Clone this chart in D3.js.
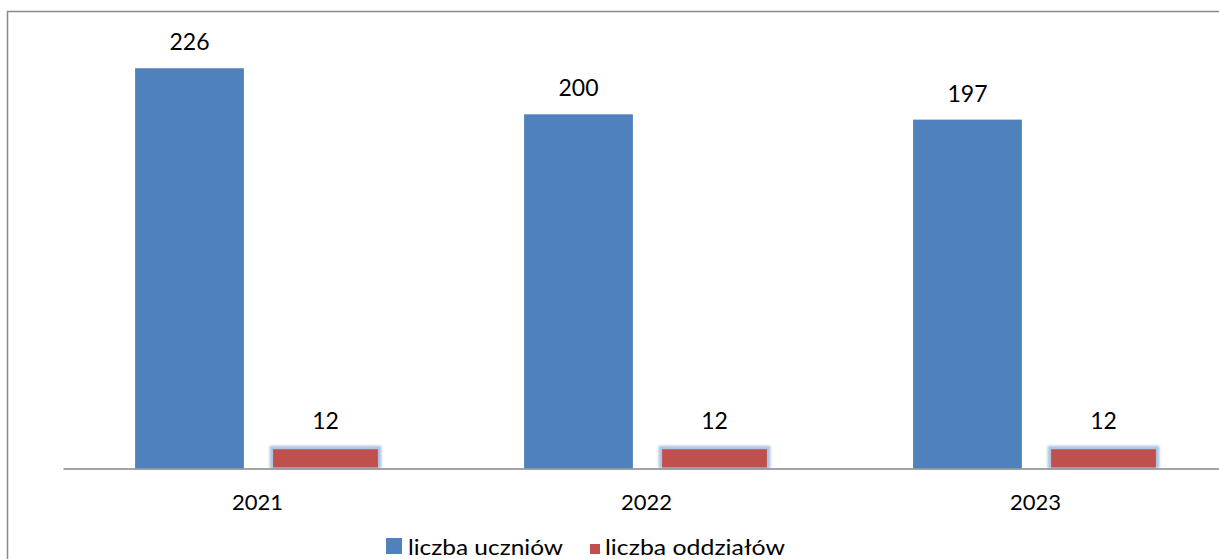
<!DOCTYPE html>
<html>
<head>
<meta charset="utf-8">
<script src="https://cdn.jsdelivr.net/npm/d3@7"></script>
<style>
  html, body { margin: 0; padding: 0; background: #fff; overflow: hidden; }
  svg { display: block; font-family: Lato, "Open Sans", sans-serif; }
</style>
</head>
<body>
<div id="chart"></div>
<script>
// chart data
const years = ['2021', '2022', '2023'];
const seriesNames = ['liczba uczniów', 'liczba oddziałów'];
const uczniowie = [226, 200, 197];
const oddzialy = [12, 12, 12];

const colors = ['#4f81bd', '#c0504d'];

const width = 1219, height = 559;

const svg = d3.select('#chart')
  .append('svg')
  .attr('width', width)
  .attr('height', height);

// soft glow for the second series
const defs = svg.append('defs');
defs.append('filter')
  .attr('id', 'glow')
  .attr('x', '-20%').attr('y', '-40%')
  .attr('width', '140%').attr('height', '180%')
  .append('feGaussianBlur')
  .attr('stdDeviation', 1.2);

// outer border (runs past the window on the right and bottom)
svg.append('rect')
  .attr('x', 7.5)
  .attr('y', 11.5)
  .attr('width', 1240)
  .attr('height', 600)
  .attr('fill', 'none')
  .attr('stroke', '#8a8a8a')
  .attr('stroke-width', 1.5);

const baseY = 468.5;
const pxPerUnit = 1.771;

const x0 = d3.scaleBand()
  .domain(years)
  .range([63, 63 + 3 * 389])
  .padding(0);

const x1 = d3.scaleBand()
  .domain(seriesNames)
  .range([0, x0.bandwidth()])
  .paddingInner(0.2)
  .paddingOuter(0.53);

const y = d3.scaleLinear()
  .domain([0, 250])
  .range([baseY, baseY - 250 * pxPerUnit]);

const data = years.map((yr, i) => ({
  year: yr,
  values: [uczniowie[i], oddzialy[i]]
}));

const groups = svg.selectAll('g.year')
  .data(data)
  .enter()
  .append('g')
  .attr('class', 'year')
  .attr('transform', d => `translate(${x0(d.year)},0)`);

// blue bars
groups.append('rect')
  .attr('x', x1(seriesNames[0]))
  .attr('y', d => y(d.values[0]))
  .attr('width', x1.bandwidth())
  .attr('height', d => baseY - y(d.values[0]))
  .attr('fill', colors[0]);

// red bars with a light blue glow
groups.append('rect')
  .attr('x', x1(seriesNames[1]) - 1.5)
  .attr('y', d => y(d.values[1]) - 1.5)
  .attr('width', x1.bandwidth() + 3)
  .attr('height', d => baseY - y(d.values[1]) + 1.5)
  .attr('fill', '#adc4e2')
  .attr('filter', 'url(#glow)');

groups.append('rect')
  .attr('x', x1(seriesNames[1]) + 2)
  .attr('y', d => y(d.values[1]) + 2)
  .attr('width', x1.bandwidth() - 4)
  .attr('height', d => baseY - y(d.values[1]) - 3)
  .attr('fill', colors[1]);

// value labels
groups.selectAll('text.val')
  .data(d => d.values.map((v, i) => ({ v, s: seriesNames[i] })))
  .enter()
  .append('text')
  .attr('class', 'val')
  .attr('x', d => x1(d.s) + x1.bandwidth() / 2)
  .attr('y', d => y(d.v) - 18)
  .attr('text-anchor', 'middle')
  .attr('font-size', 23)
  .attr('fill', '#000')
  .text(d => d.v);

// x axis
const xAxis = d3.axisBottom(x0).tickSize(0).tickPadding(0);
const axisG = svg.append('g')
  .attr('transform', `translate(0,${baseY})`)
  .call(xAxis);
axisG.select('.domain')
  .attr('stroke', '#868686')
  .attr('stroke-width', 1.5);
axisG.selectAll('.tick text')
  .attr('y', 41.5)
  .attr('dy', 0)
  .attr('font-size', 22)
  .attr('font-family', 'Lato, sans-serif')
  .attr('fill', '#000');

// legend
const legend = svg.append('g');
const legendItems = [
  { name: seriesNames[0], color: colors[0], x: 386, size: 16, sy: 538, tx: 408, len: 155 },
  { name: seriesNames[1], color: colors[1], x: 590, size: 10, sy: 544, tx: 605, len: 180 }
];
legendItems.forEach(it => {
  legend.append('rect')
    .attr('x', it.x)
    .attr('y', it.sy)
    .attr('width', it.size)
    .attr('height', it.size)
    .attr('fill', it.color);
  legend.append('text')
    .attr('x', it.tx)
    .attr('y', 555)
    .attr('font-size', 22)
    .attr('textLength', it.len)
    .attr('lengthAdjust', 'spacingAndGlyphs')
    .attr('fill', '#000')
    .text(it.name);
});
</script>
</body>
</html>
